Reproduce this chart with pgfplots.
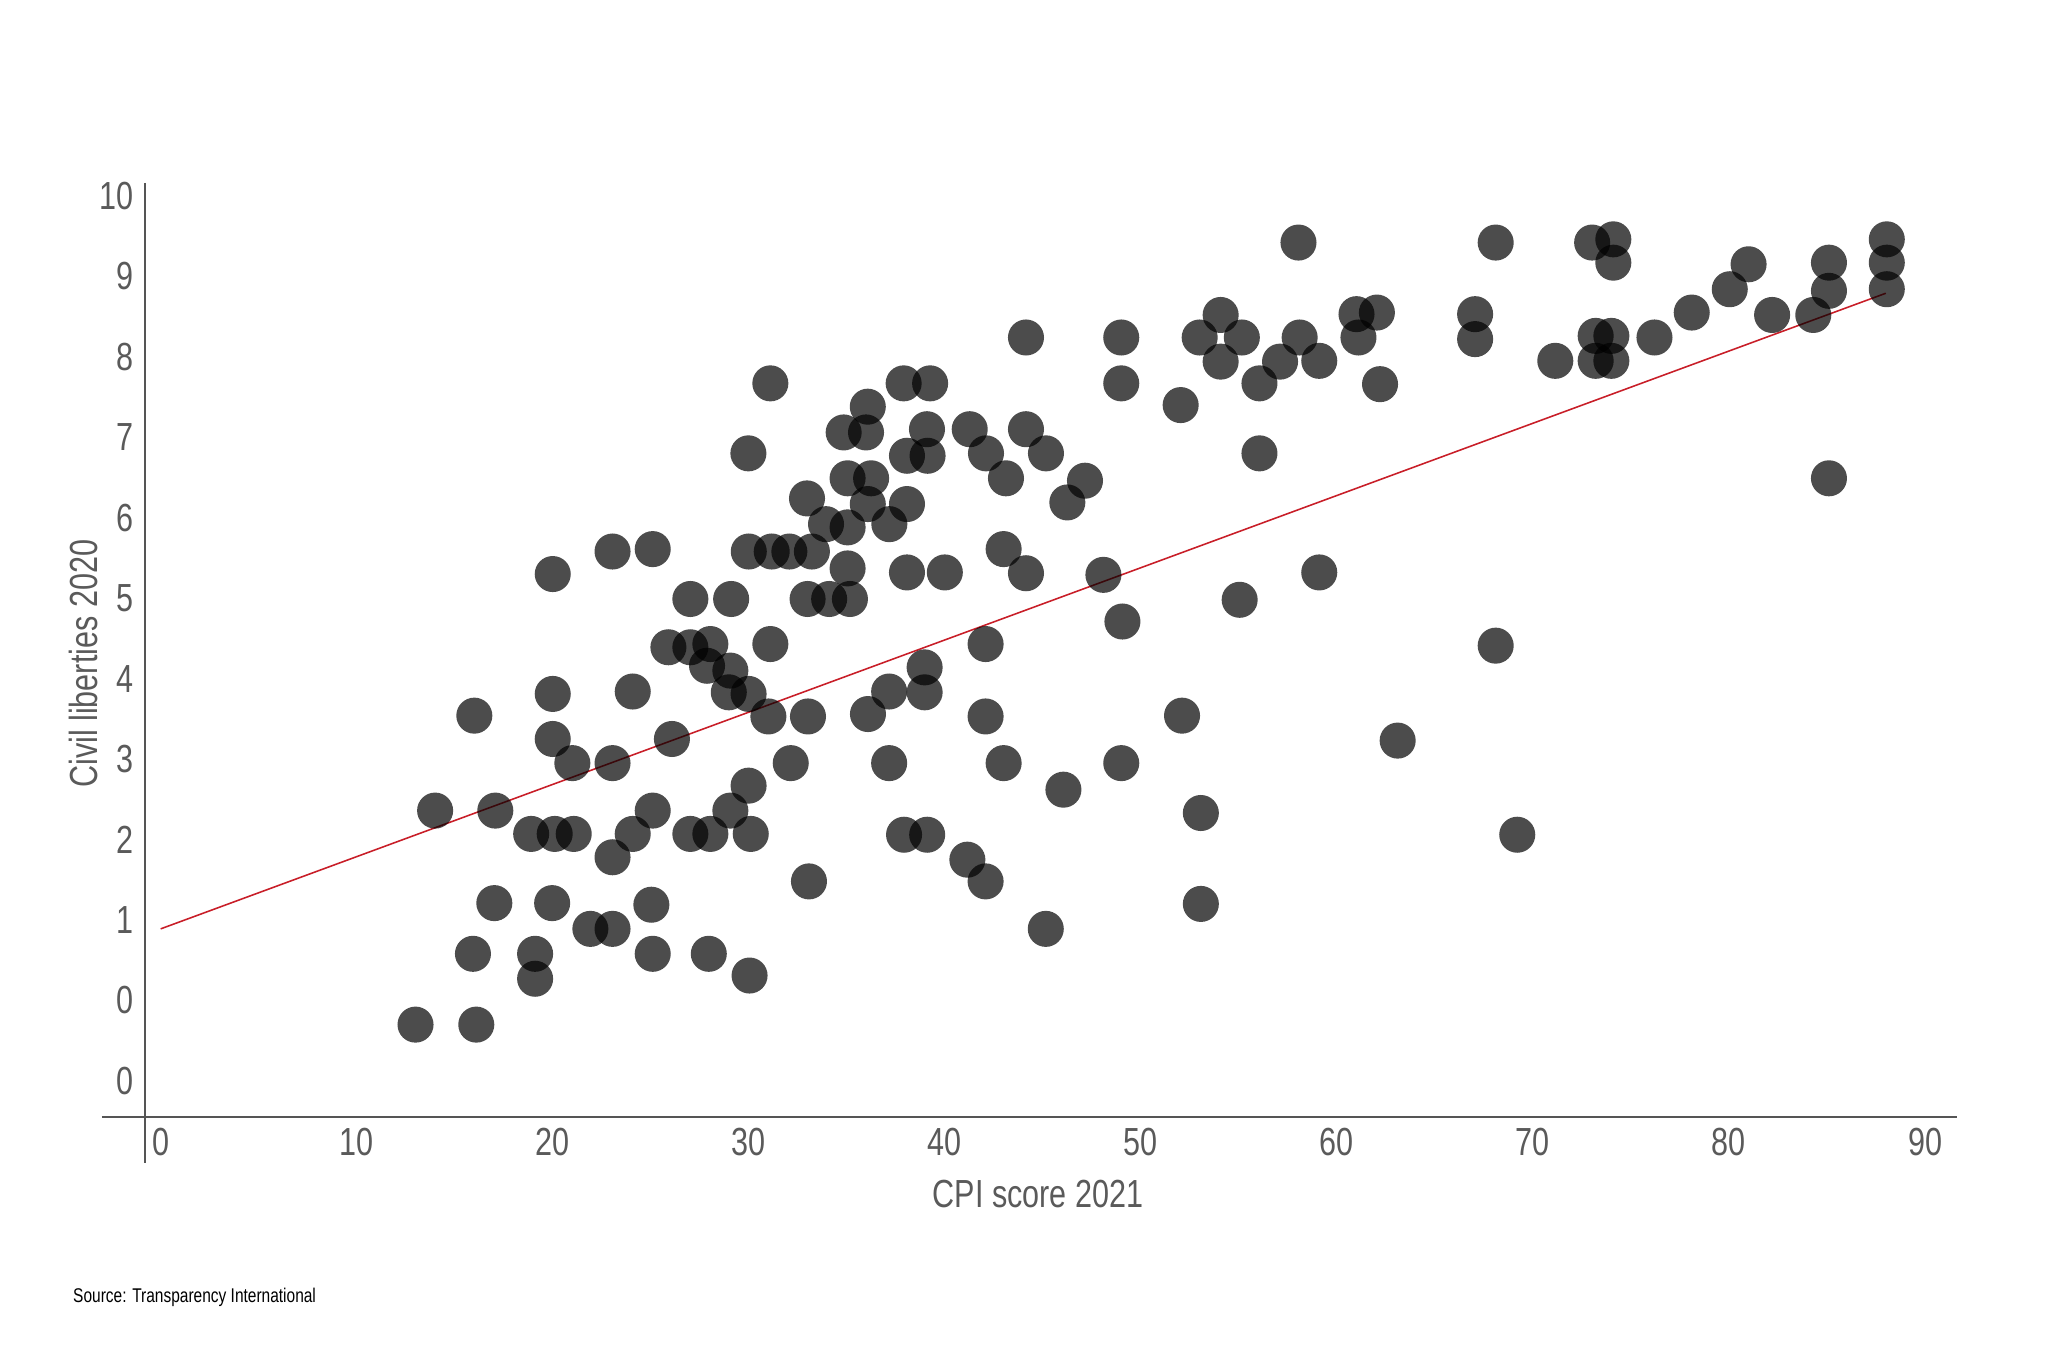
\documentclass[border=0pt]{standalone}
\usepackage{fontspec}
\setmainfont[FakeStretch=0.78]{Liberation Sans}
\usepackage{pgfplots}
\pgfplotsset{compat=1.18}
\definecolor{axisgray}{HTML}{555555}
\definecolor{textgray}{HTML}{5A5A5A}
\definecolor{fitred}{RGB}{200,30,40}
\begin{document}
\begin{tikzpicture}
\useasboundingbox (-55.5pt,-95pt) rectangle (728.5pt,427.5pt);
\begin{axis}[
  at={(0,0)}, anchor=south west,
  scale only axis, width=693.5pt, height=357.5pt,
  xmin=-0.8, xmax=91.61, ymin=-1.445, ymax=10.162,
  axis x line*=bottom, axis y line*=left,
  axis line style={draw=none}, clip=false,
  /pgf/number format/assume math mode=true,
  xtick={0,10,...,90},
  xticklabels={0,10,20,30,40,50,60,70,80,90},
  ytick={-1,0,...,10},
  yticklabels={0,0,1,2,3,4,5,6,7,8,9,10},
  major tick length=0pt, tick style={draw=none},
  tick label style={font=\fontsize{15}{18}\selectfont, text=textgray},
  xticklabel style={anchor=north, yshift=-1pt},
  yticklabel style={anchor=east, xshift=-1pt},
  label style={font=\fontsize{15}{18}\selectfont, text=textgray},
  xlabel={CPI score 2021},
  ylabel={Civil liberties 2020},
  xlabel style={at={(rel axis cs:0.493,-0.0825)}, anchor=center},
  ylabel style={at={(rel axis cs:-0.0339,0.485)}, anchor=center},
]
\draw[axisgray, line width=0.8pt] (rel axis cs:-0.0238,0) -- (rel axis cs:1,0);
\draw[axisgray, line width=0.8pt] (rel axis cs:0,1) -- (rel axis cs:0,-0.049);
\addplot[only marks, mark=*, mark size=6.9pt, mark options={draw opacity=0, line width=0pt, fill=black, fill opacity=0.7}] coordinates {
(13.0,-0.30) (16.1,-0.30) (14.0,2.36) (16.0,3.54) (15.93,0.58) (17.07,2.36) (17.02,1.21)
(18.9,2.07) (19.1,0.58) (19.1,0.27) (20.0,5.30) (20.0,3.81) (20.0,3.25) (20.1,2.07)
(19.97,1.21) (21.0,2.95) (21.07,2.07) (21.92,0.89) (23.05,5.58) (23.05,2.95) (23.05,1.78)
(23.05,0.89) (24.08,3.84) (24.08,2.07) (25.1,5.61) (25.1,2.36) (25.03,1.19) (25.1,0.58)
(26.08,3.25) (25.9,4.39) (27.02,4.99) (27.02,4.39) (27.02,2.07) (28.04,4.43) (27.87,4.16)
(28.04,2.07) (27.96,0.58) (29.1,4.99) (29.06,4.10) (28.98,3.83) (29.06,2.36) (29.98,6.80)
(30.0,5.58) (29.99,3.81) (29.99,2.67) (30.1,2.07) (30.04,0.31) (31.1,7.67) (31.17,5.58)
(31.1,4.43) (31.0,3.53) (32.07,5.58) (32.14,2.95) (32.97,6.24) (33.22,5.58) (33.0,4.99)
(33.02,3.53) (33.07,1.48) (33.94,5.92) (34.1,4.99) (34.84,7.06) (35.04,6.49) (35.04,5.88)
(35.04,5.37) (35.16,4.99) (36.07,7.38) (35.98,7.06) (36.24,6.49) (36.07,6.17) (36.08,3.56)
(37.17,5.92) (37.16,3.84) (37.16,2.95) (37.9,7.67) (38.07,6.77) (38.07,6.17) (38.07,5.32)
(37.92,2.06) (39.25,7.67) (39.09,7.10) (39.12,6.77) (38.97,4.14) (38.97,3.83) (39.1,2.06)
(40.0,5.32) (41.27,7.10) (41.15,1.75) (42.1,6.80) (42.08,4.43) (42.08,3.53) (42.08,1.48)
(43.12,6.49) (43.0,5.61) (43.0,2.95) (44.14,8.24) (44.14,7.10) (44.14,5.31) (45.16,6.80)
(45.15,0.89) (46.05,2.62) (46.25,6.19) (47.15,6.46) (48.09,5.29) (49.0,8.24) (49.0,7.67)
(49.06,4.71) (49.0,2.95) (52.03,7.40) (52.1,3.54) (53.0,8.24) (53.06,2.33) (53.06,1.20)
(54.07,8.52) (54.07,7.94) (55.15,8.24) (55.04,4.98) (56.05,7.67) (56.05,6.80) (57.1,7.94)
(58.04,9.42) (58.1,8.24) (59.1,7.95) (59.1,5.32) (61.0,8.53) (61.1,8.24) (62.04,8.55)
(62.2,7.66) (63.1,3.23) (67.05,8.53) (67.05,8.22) (68.1,9.42) (68.1,4.41) (69.2,2.06)
(71.14,7.95) (73.02,9.42) (73.2,8.26) (73.2,7.95) (74.1,9.46) (74.1,9.17) (74.0,8.26)
(74.0,7.95) (76.2,8.24) (78.1,8.55) (80.04,8.84) (81.0,9.15) (82.2,8.52) (84.3,8.52)
(85.1,9.17) (85.1,8.82) (85.1,6.49) (88.05,9.46) (88.05,9.17) (88.05,8.84)
};
\addplot[fitred, line width=0.6pt, no marks] coordinates {(0,0.89) (88,8.79)};
\node[anchor=west, inner sep=0pt, font=\fontsize{7.6}{9}\selectfont, text=black] at (rel axis cs:-0.0399,-0.193) {Source: Transparency International};
\end{axis}
\end{tikzpicture}
\end{document}
